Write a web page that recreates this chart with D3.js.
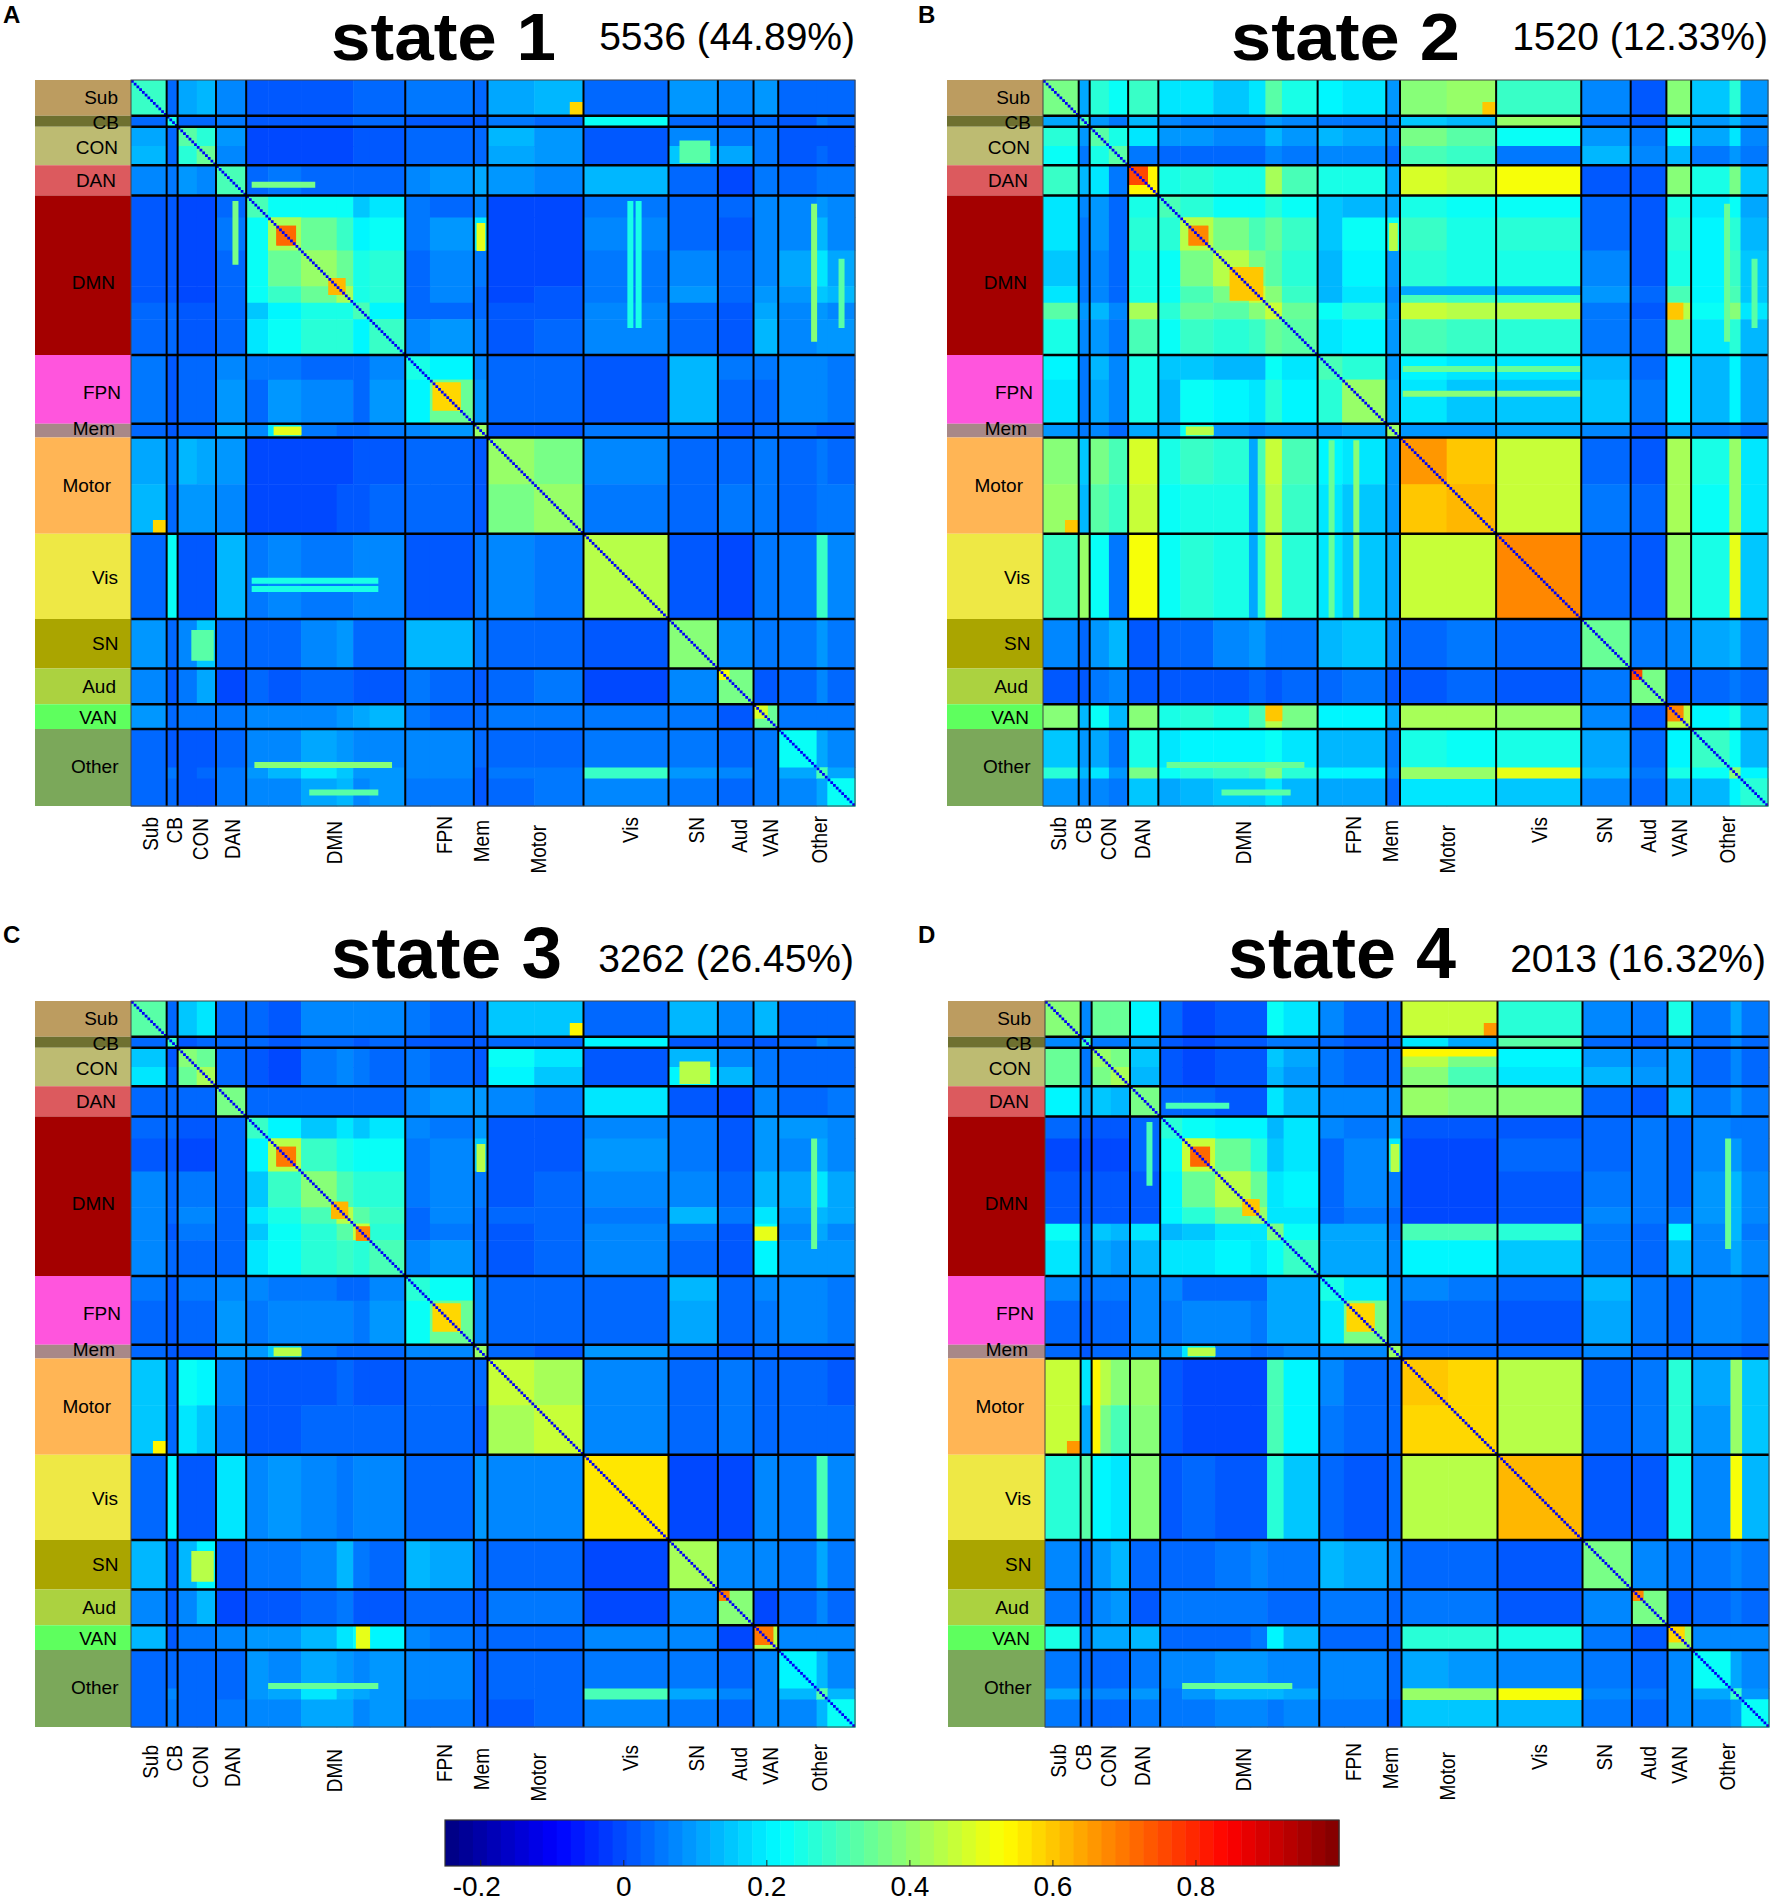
<!DOCTYPE html>
<html>
<head>
<meta charset="utf-8">
<script src="https://d3js.org/d3.v7.min.js"></script>
<style>
body { margin: 0; background: #fff; }
text { font-family: "Liberation Sans", Arial, sans-serif; fill: #000; }
</style>
</head>
<body>
<script>
// Four connectivity matrices, 264 ROIs sorted into 13 networks.
// The cell values are block levels read by eye, in hundredths, upper triangle only.

var networks = ["Sub","CB","CON","DAN","DMN","FPN","Mem","Motor","Vis","SN","Aud","VAN","Other"];
var networkSizes = [13,4,14,11,58,25,5,35,31,18,13,9,28];
var networkColors = ["#bc9c60","#6e7030","#bdbb72","#dc5a5e","#a40000","#ff55dd","#a88888","#ffb555","#eee845","#aaa500","#abd240","#5eff5e","#7ba85a"];

// sub-bands of the networks, as ROI counts (same order as the rows below)
var bandSizes = [13,4,7,7,11,8,12,13,6,6,13,9,16,5,17,18,31,18,13,9,14,4,10];

var state1 = [
[28,3,11,14,8,2,1,2,2,4,3,5,5,3,11,14,3,10,7,10,3,3,3],
[25,3,3,5,2,1,2,2,3,3,1,2,2,5,4,22,3,1,3,2,5,4],
[32,26,9,0,0,0,0,1,1,4,4,3,13,10,1,8,5,5,2,2,2],
[35,8,0,0,0,0,1,1,4,4,3,12,9,1,16,11,5,2,3,2],
[30,4,5,4,4,3,4,8,10,11,10,8,14,3,0,5,4,5,5],
[30,22,22,22,15,18,5,4,8,0,0,5,4,3,8,8,10,7],
[42,34,28,20,22,5,10,18,0,0,8,4,2,8,8,14,7],
[40,35,24,26,4,8,5,0,0,6,7,3,8,11,18,12],
[42,24,26,4,7,3,0,1,5,10,3,10,10,16,14],
[30,20,4,4,3,1,2,7,4,1,12,7,10,7],
[28,8,10,5,1,3,7,3,1,14,8,10,10],
[25,20,8,4,3,1,14,5,5,7,7,5],
[35,10,3,3,1,14,4,4,7,7,5],
[40,2,2,5,5,1,4,3,2,2],
[40,36,7,3,4,5,4,5,4],
[40,6,3,5,5,3,5,5],
[45,1,0,5,5,28,7],
[38,7,6,5,10,5],
[36,2,4,7,3],
[35,5,5,5],
[22,12,8],
[30,11],
[22]
];

var state2 = [
[36,12,26,22,28,18,18,16,18,32,24,20,18,10,38,40,28,8,1,38,16,26,10],
[30,10,6,14,8,6,6,6,10,8,6,6,5,16,14,40,3,1,14,10,14,8],
[32,24,18,10,10,8,8,14,10,14,12,8,36,32,22,10,6,22,12,18,8],
[32,6,4,4,3,4,8,5,8,8,4,30,28,6,14,8,14,6,10,6],
[55,24,26,24,24,42,30,24,24,12,48,46,52,2,1,38,24,36,16],
[30,26,22,22,26,22,16,14,12,24,22,22,4,2,24,18,22,12],
[44,36,30,34,28,16,22,22,28,24,26,3,2,26,20,26,14],
[45,36,32,26,14,20,10,26,24,24,8,2,24,20,28,16],
[46,38,28,14,18,8,30,28,26,10,3,30,20,30,16],
[46,34,22,26,10,46,44,44,6,1,44,22,38,18],
[32,18,20,10,30,28,26,6,3,36,18,26,14],
[30,26,10,20,18,18,14,4,20,14,20,12],
[40,12,18,16,16,16,6,20,14,20,12],
[40,10,9,12,8,2,12,6,8,4],
[65,60,46,4,2,42,24,40,18],
[62,46,5,4,42,22,40,18],
[68,3,1,40,24,50,16],
[34,6,8,12,14,8],
[36,2,4,6,3],
[45,20,24,14],
[28,22,14],
[38,20],
[26]
];

var state3 = [
[32,3,16,18,4,4,2,7,8,7,7,5,4,3,16,16,4,14,8,14,4,4,4],
[28,2,3,4,3,1,3,3,2,3,2,2,2,4,3,20,1,1,1,3,7,5],
[38,34,3,1,0,5,7,5,4,5,4,2,22,18,2,14,8,5,3,3,3],
[42,3,1,0,5,7,5,4,5,4,2,20,16,2,20,14,5,3,4,3],
[36,3,4,4,4,3,4,8,10,10,7,6,18,2,0,7,4,4,5],
[28,20,16,18,16,18,7,5,10,1,2,8,5,1,10,10,10,7],
[44,28,24,22,22,5,8,16,1,2,10,5,2,10,8,12,7],
[38,30,26,26,5,8,5,2,3,8,8,4,14,12,18,12],
[44,32,28,4,7,3,3,4,5,14,5,18,10,14,12],
[46,26,4,5,3,2,4,7,5,2,22,8,12,8],
[30,7,10,4,2,3,7,4,1,20,10,10,10],
[26,22,7,3,3,3,14,4,7,7,7,5],
[34,7,3,3,3,12,3,5,7,7,5],
[40,3,2,10,4,1,3,2,2,2],
[46,42,7,4,5,4,3,3,2],
[46,7,4,6,3,3,3,3],
[56,0,0,7,5,30,8],
[42,8,7,5,12,5],
[38,0,4,7,3],
[45,7,7,7],
[20,14,8],
[32,14],
[22]
];

var state4 = [
[38,7,34,34,20,3,0,2,1,22,18,7,4,4,46,46,26,7,5,24,5,12,5],
[28,6,5,12,2,0,1,1,6,6,3,2,2,18,12,32,3,2,5,4,8,4],
[40,36,16,2,0,1,1,16,12,5,4,3,44,36,20,10,7,12,3,7,4],
[42,14,2,0,1,1,14,10,5,4,3,38,30,18,14,10,12,3,7,4],
[36,3,3,2,2,18,14,8,8,7,40,38,38,3,2,14,5,10,5],
[26,22,20,20,14,18,7,5,10,1,1,1,4,5,4,7,5,5],
[46,34,26,16,18,4,8,18,0,0,3,4,5,4,8,10,5],
[44,34,18,20,3,8,5,0,0,2,5,5,4,10,14,7],
[40,18,18,3,5,3,0,0,1,8,5,5,10,14,8],
[36,22,12,12,5,30,30,26,6,3,20,7,14,5],
[28,12,12,7,20,20,16,6,4,14,7,12,7],
[24,18,7,7,6,3,14,5,4,7,7,5],
[36,8,4,4,1,12,5,4,7,7,5],
[40,3,3,3,7,3,3,3,3,2],
[60,58,44,4,5,26,12,28,16],
[58,44,3,5,26,10,30,16],
[62,2,1,24,7,40,14],
[36,7,5,5,8,5],
[36,1,4,5,3],
[40,7,8,7],
[22,12,8],
[28,10],
[22]
];

// hot spots and stripes seen in the picture: row from, row to, column from, column to, level
var features1 = [
[53,60,53,60,72],[72,78,72,78,62],[110,120,110,120,58],[8,13,160,165,58],[37,39,44,67,36],
[126,129,52,62,50],[248,250,45,95,38],[258,260,65,90,32],[200,211,22,30,32],[181,183,44,90,25],
[184,186,44,90,25],[214,218,214,218,52],[227,232,227,232,48]
];
var features2 = [
[53,60,53,60,68],[68,80,68,80,60],[31,38,31,38,75],[214,218,214,218,75],[227,233,227,233,68],
[8,13,160,165,60],[81,87,227,233,60],[126,129,52,62,45],[248,250,45,95,35],[258,260,65,90,32],
[75,78,130,196,12],[104,106,131,196,35],[113,115,131,196,38],[250,254,130,165,40]
];
var features3 = [
[53,60,53,60,70],[73,79,73,79,62],[82,87,82,87,68],[110,120,110,120,58],[8,13,160,165,55],
[200,211,22,30,45],[227,234,227,234,70],[227,236,82,87,50],[214,218,214,218,70],[248,250,50,90,35],
[126,129,52,62,45]
];
var features4 = [
[53,60,53,60,72],[72,78,72,78,60],[110,120,110,120,58],[8,13,160,165,65],[17,20,130,165,54],
[214,218,214,218,68],[227,233,227,233,58],[250,254,130,165,40],[250,254,165,196,52],[37,39,44,67,30],
[126,129,52,62,45],[248,250,50,90,35]
];

var diagonalValue = -0.1;

var stateTitles = ["state 1","state 2","state 3","state 4"];
var stateCounts = ["5536 (44.89%)","1520 (12.33%)","3262 (26.45%)","2013 (16.32%)"];
var panelLetters = ["A","B","C","D"];
var colorbarTicks = [-0.2,0,0.2,0.4,0.6,0.8];

var leftLabelRight = [118,119,118,116,115,121,115,111,118,118.5,116,117,118.5];
var leftLabelMiddle = [17,42,67,100,202,312,348,405,497,563,606,637,686];
var bottomLabelXLeft = [150.5,175,200.5,233,335,445,482,539,631,697,740,771,820];
var bottomLabelXRight = [1058.5,1084,1108.6,1142.5,1244,1354,1390.5,1448,1540,1605,1648.6,1680,1727.6];
var bottomLabelTop = [817,817,818,819,821,816,820,825,817,817,819,819,816];

var width = 1772;
var height = 1903;
var totalRois = d3.sum(networkSizes);

var svg = d3.select("body").append("svg")
    .attr("width",width)
    .attr("height",height)
    .style("display","block");

// MATLAB jet with 64 levels
function jet(t){
    var r = Math.min(4*t-1.5,-4*t+4.5);
    var g = Math.min(4*t-0.5,-4*t+3.5);
    var b = Math.min(4*t+0.5,-4*t+2.5);
    function c(v){ return Math.round(255*Math.max(0,Math.min(1,v))); }
    return d3.rgb(c(r),c(g),c(b)).formatHex();
}
var jetLevels = d3.range(64).map(function(i){ return jet((i+0.5)/64); });
var color = d3.scaleQuantize().domain([-0.25,1]).range(jetLevels);

function cumulative(sizes){
    var out = [0];
    sizes.forEach(function(s){ out.push(out[out.length-1]+s); });
    return out;
}
var bandEdges = cumulative(bandSizes);
var networkEdges = cumulative(networkSizes);

function drawPanel(values,features,left,top,w,h,barLeft,labelX,labelShift){
    var g = svg.append("g");
    var x = d3.scaleLinear().domain([0,totalRois]).range([left,left+w]);
    var y = d3.scaleLinear().domain([0,totalRois]).range([top,top+h]);
    var dx = barLeft-35;

    function block(r0,r1,c0,c1,v){
        g.append("rect")
            .attr("x",x(c0))
            .attr("y",y(r0))
            .attr("width",x(c1)-x(c0)+0.5)
            .attr("height",y(r1)-y(r0)+0.5)
            .attr("fill",color(v/100));
    }

    // network colour strip
    networks.forEach(function(name,i){
        g.append("rect")
            .attr("x",barLeft)
            .attr("y",y(networkEdges[i]))
            .attr("width",left-barLeft)
            .attr("height",y(networkEdges[i+1])-y(networkEdges[i]))
            .attr("fill",networkColors[i]);
    });
    networks.forEach(function(name,i){
        g.append("text")
            .attr("x",leftLabelRight[i]+dx)
            .attr("y",top+leftLabelMiddle[i]+7)
            .attr("text-anchor","end")
            .attr("font-size",19)
            .text(name);
        g.append("text")
            .attr("transform","translate("+(labelX[i]+7)+","+(bottomLabelTop[i]+labelShift)+") rotate(-90) scale(1,1.15)")
            .attr("text-anchor","end")
            .attr("font-size",19)
            .text(name);
    });

    // blocks, mirrored over the diagonal
    values.forEach(function(row,r){
        row.forEach(function(v,k){
            var c = r+k;
            block(bandEdges[r],bandEdges[r+1],bandEdges[c],bandEdges[c+1],v);
            block(bandEdges[c],bandEdges[c+1],bandEdges[r],bandEdges[r+1],v);
        });
    });

    features.forEach(function(f){
        block(f[0],f[1],f[2],f[3],f[4]);
        block(f[2],f[3],f[0],f[1],f[4]);
    });

    d3.range(totalRois).forEach(function(i){
        g.append("rect")
            .attr("x",x(i))
            .attr("y",y(i))
            .attr("width",x(i+1)-x(i))
            .attr("height",y(i+1)-y(i))
            .attr("fill",color(diagonalValue));
    });

    // network separators
    networkEdges.slice(1,-1).forEach(function(e){
        g.append("line").attr("x1",x(e)).attr("x2",x(e)).attr("y1",top).attr("y2",top+h)
            .attr("stroke","#000").attr("stroke-width",2);
        g.append("line").attr("x1",left).attr("x2",left+w).attr("y1",y(e)).attr("y2",y(e))
            .attr("stroke","#000").attr("stroke-width",2.4);
    });
    g.append("rect").attr("x",left).attr("y",top).attr("width",w).attr("height",h)
        .attr("fill","none").attr("stroke","#444").attr("stroke-width",1);
}

function drawHeading(n,letterX,letterY,titleX,titleY,titleSize,titleWidth,countX,countY){
    svg.append("text").attr("x",letterX).attr("y",letterY)
        .attr("font-size",24).attr("font-weight","bold").text(panelLetters[n]);
    svg.append("text").attr("x",titleX).attr("y",titleY)
        .attr("font-size",titleSize).attr("font-weight","bold")
        .attr("textLength",titleWidth).attr("lengthAdjust","spacingAndGlyphs")
        .text(stateTitles[n]);
    svg.append("text").attr("x",countX).attr("y",countY)
        .attr("text-anchor","end").attr("font-size",39).text(stateCounts[n]);
}

drawPanel(state1,features1,131,80,724,726,35,bottomLabelXLeft,0);
drawPanel(state2,features2,1043,80,725,726,947,bottomLabelXRight,0);
drawPanel(state3,features3,131,1001,724,726,35,bottomLabelXLeft,928);
drawPanel(state4,features4,1045,1001,724,726,948,bottomLabelXRight,927);

// the top row sits right under the page edge, so its titles are a little smaller
drawHeading(0,3,23,331,60,67,225,855,50);
drawHeading(1,918,23,1231,60,67,229,1768,50);
drawHeading(2,3,943,331,978,72,231,854,972);
drawHeading(3,918,943,1228,978,72,228,1766,972);

// colour bar
var barScale = d3.scaleLinear().domain([-0.25,1]).range([445,1339]);
var barTop = 1820;
var barH = 46;
jetLevels.forEach(function(c,i){
    var lo = -0.25+i*1.25/64;
    var hi = -0.25+(i+1)*1.25/64;
    svg.append("rect")
        .attr("x",barScale(lo))
        .attr("y",barTop)
        .attr("width",barScale(hi)-barScale(lo)+0.5)
        .attr("height",barH)
        .attr("fill",c);
});
svg.append("rect").attr("x",445).attr("y",barTop).attr("width",894).attr("height",barH)
    .attr("fill","none").attr("stroke","#333").attr("stroke-width",1.2);
colorbarTicks.forEach(function(t){
    svg.append("line").attr("x1",barScale(t)).attr("x2",barScale(t))
        .attr("y1",barTop+barH-6).attr("y2",barTop+barH)
        .attr("stroke","#222").attr("stroke-width",1);
    svg.append("text").attr("x",barScale(t)-(t<0?4:0)).attr("y",1896)
        .attr("text-anchor","middle").attr("font-size",28)
        .text(String(t));
});
</script>
</body>
</html>
